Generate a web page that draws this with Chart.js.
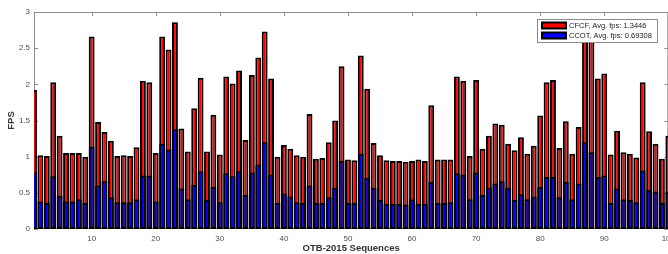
<!DOCTYPE html>
<html>
<head>
<meta charset="utf-8">
<script src="https://cdn.jsdelivr.net/npm/chart.js@4/dist/chart.umd.min.js"></script>
<style>
  html, body { margin: 0; padding: 0; background: #fff; overflow: hidden; }
  #wrap { width: 668px; height: 254px; overflow: hidden; }
</style>
</head>
<body>
<div id="wrap"><canvas id="fps" width="680" height="254"></canvas></div>
<script>
// per-sequence speed (100 OTB-2015 sequences)
const cfcf = [1.92, 1.02, 1.01, 2.03, 1.29, 1.05, 1.05, 1.05, 1.00, 2.66,
    1.48, 1.34, 1.22, 1.01, 1.02, 1.01, 1.13, 2.05, 2.03, 1.05,
    2.66, 2.48, 2.86, 1.39, 1.07, 1.67, 2.09, 1.07, 1.58, 1.03,
    2.11, 2.01, 2.19, 1.23, 2.13, 2.37, 2.73, 2.08, 1.00, 1.16,
    1.11, 1.02, 1.00, 1.59, 0.97, 0.98, 1.20, 1.50, 2.25, 0.96,
    0.95, 2.40, 1.94, 1.19, 1.02, 0.95, 0.94, 0.94, 0.93, 0.94,
    0.96, 0.94, 1.71, 0.96, 0.96, 0.96, 2.11, 2.05, 1.01, 2.06,
    1.11, 1.29, 1.46, 1.44, 1.18, 1.09, 1.27, 1.04, 1.15, 1.57,
    2.03, 2.06, 1.12, 1.49, 1.04, 1.41, 2.88, 2.80, 2.08, 2.15,
    1.03, 1.36, 1.06, 1.04, 0.99, 2.03, 1.35, 1.18, 0.97, 1.29]
const ccot = [0.78, 0.38, 0.36, 0.73, 0.46, 0.38, 0.38, 0.41, 0.36, 1.14,
    0.60, 0.66, 0.44, 0.37, 0.37, 0.37, 0.41, 0.74, 0.74, 0.38,
    1.18, 1.10, 1.38, 0.56, 0.41, 0.61, 0.80, 0.40, 0.58, 0.37,
    0.77, 0.73, 0.80, 0.47, 0.78, 0.89, 1.20, 0.75, 0.36, 0.49,
    0.45, 0.37, 0.36, 0.60, 0.36, 0.36, 0.44, 0.57, 0.94, 0.36,
    0.36, 1.04, 0.71, 0.57, 0.40, 0.35, 0.35, 0.35, 0.34, 0.41,
    0.35, 0.35, 0.65, 0.36, 0.36, 0.37, 0.77, 0.75, 0.41, 0.78,
    0.47, 0.57, 0.63, 0.66, 0.57, 0.40, 0.48, 0.41, 0.45, 0.58,
    0.72, 0.72, 0.44, 0.65, 0.41, 0.63, 1.20, 1.06, 0.72, 0.74,
    0.36, 0.56, 0.41, 0.40, 0.37, 0.81, 0.54, 0.52, 0.36, 0.52]
const xTicks = [10, 20, 30, 40, 50, 60, 70, 80, 90, 100]
const yTicks = [0, 0.5, 1, 1.5, 2, 2.5, 3]
const legendLabels = ["CFCF, Avg. fps: 1.3446", "CCOT, Avg. fps: 0.69308"]
const legendColors = ["#ff0000", "#0000ff"]

const FONT = "'Liberation Sans', Arial, sans-serif"
Chart.defaults.font.family = FONT

function toPoints(vals) {
    return vals.map((v, i) => ({ x: i + 1, y: v }))
}

// matlab style box with inward ticks on all four sides
const axesBox = {
    id: 'axesBox',
    beforeDatasetsDraw(chart) {
        const { ctx, chartArea: a, scales } = chart
        ctx.save()
        ctx.strokeStyle = '#8c8c8c'
        ctx.lineWidth = 1
        ctx.strokeRect(a.left + 0.5, a.top + 0.5, a.right - a.left - 1, a.bottom - a.top - 1)
        ctx.beginPath()
        xTicks.forEach(v => {
            const px = Math.round(scales.x.getPixelForValue(v)) + 0.5
            ctx.moveTo(px, a.top); ctx.lineTo(px, a.top + 4)
            ctx.moveTo(px, a.bottom); ctx.lineTo(px, a.bottom - 4)
        })
        yTicks.forEach(v => {
            const py = Math.round(scales.y.getPixelForValue(v)) + 0.5
            ctx.moveTo(a.left, py); ctx.lineTo(a.left + 4, py)
            ctx.moveTo(a.right, py); ctx.lineTo(a.right - 4, py)
        })
        ctx.stroke()
        ctx.restore()
    }
}

// legend sits inside the axes, top right
const boxLegend = {
    id: 'boxLegend',
    afterDraw(chart) {
        const { ctx } = chart
        const x0 = 537, y0 = 19, w = 120, h = 23
        ctx.save()
        ctx.fillStyle = '#fff'
        ctx.fillRect(x0, y0, w, h)
        ctx.strokeStyle = '#8c8c8c'
        ctx.lineWidth = 1
        ctx.strokeRect(x0 + 0.5, y0 + 0.5, w, h)
        ctx.font = "7.5px " + FONT
        ctx.textBaseline = 'middle'
        legendLabels.forEach((lab, i) => {
            const cy = y0 + 6.5 + i * 10
            ctx.fillStyle = '#000'
            ctx.fillRect(x0 + 4, cy - 4, 26, 8)
            ctx.fillStyle = legendColors[i]
            ctx.fillRect(x0 + 6, cy - 2, 22, 4)
            ctx.fillStyle = '#222'
            ctx.fillText(lab, x0 + 32, cy + 0.5)
        })
        ctx.restore()
    }
}

new Chart('fps', {
    type: 'bar',
    data: {
        datasets: [{
            label: 'CCOT',
            data: toPoints(ccot),
            backgroundColor: '#0000ff',
            order: 1
        }, {
            label: 'CFCF',
            data: toPoints(cfcf),
            backgroundColor: '#ff0000',
            order: 2
        }]
    },
    options: {
        responsive: false,
        animation: false,
        layout: { padding: { top: 12, right: 9, left: 0, bottom: 0 } },
        datasets: {
            bar: {
                grouped: false,
                borderColor: '#000',
                borderWidth: 2,
                borderSkipped: false,
                barPercentage: 0.92,
                categoryPercentage: 1,
                clip: 0
            }
        },
        plugins: {
            legend: { display: false },
            tooltip: { enabled: false }
        },
        scales: {
            x: {
                type: 'linear',
                min: 1,
                max: 100,
                offset: false,
                grid: { display: false, drawTicks: false },
                border: { display: false },
                afterBuildTicks: s => { s.ticks = xTicks.map(v => ({ value: v })) },
                afterFit: s => { s.height = 25 },
                ticks: { color: '#4d4d4d', font: { size: 8 }, padding: 5, maxRotation: 0 },
                title: { display: true, text: 'OTB-2015 Sequences', color: '#333', font: { size: 9.5, weight: 'bold' }, padding: 0 }
            },
            y: {
                min: 0,
                max: 3,
                grid: { display: false, drawTicks: false },
                border: { display: false },
                afterBuildTicks: s => { s.ticks = yTicks.map(v => ({ value: v })) },
                afterFit: s => { s.width = 34 },
                ticks: { color: '#4d4d4d', font: { size: 8 }, padding: 4, callback: v => String(v) },
                title: { display: true, text: 'FPS', color: '#333', font: { size: 9.5, weight: 'bold' }, padding: 6 }
            }
        }
    },
    plugins: [axesBox, boxLegend]
})
</script>
</body>
</html>
